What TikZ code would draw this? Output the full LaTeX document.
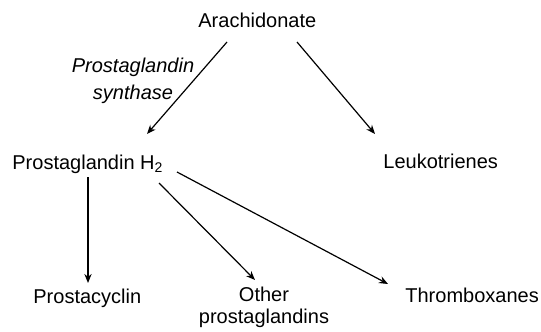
\documentclass[tikz,border=0pt]{standalone}
\usepackage{fontspec}
\setmainfont{Liberation Sans}
\usetikzlibrary{arrows.meta, positioning, calc}

\begin{document}
\begin{tikzpicture}[
    x=0.5pt, y=-0.5pt,
    base/.style={inner sep=0pt, font=\fontsize{10}{11}\selectfont},
    compound/.style={base, anchor=base west},
    enzyme/.style={base, align=center, anchor=north, font=\fontsize{10}{13.5}\selectfont\itshape},
    arrow/.style={-{Stealth[length=4.5pt, width=3.6pt]}, line width=0.6pt}
]
    \useasboundingbox (0,0) rectangle (541,332);

    % Nodes
    \node [compound] (arach) at (198,27) {Arachidonate};
    \node [compound] (pgh2) at (12,169) {Prostaglandin H\raisebox{-0.35ex}{\fontsize{7}{7}\selectfont 2}};
    \node [compound] (leuk) at (383,168) {Leukotrienes};
    \node [compound] (prosta) at (33,303) {Prostacyclin};
    \node [base, align=center, anchor=north] (other) at (264,287) {Other\\prostaglandins};
    \node [compound] (thromb) at (405,302) {Thromboxanes};

    \node [enzyme] (synth) at (133,58) {Prostaglandin\\synthase};

    % Path connections
    \draw [arrow] ($(arach.base west)+(29,15)$) -- ($(pgh2.base west)+(135,-35)$);
    \draw [arrow] ($(arach.base west)+(99,15)$) -- ($(leuk.base west)+(-8,-34)$);

    \draw [arrow] ($(pgh2.base west)+(76,8)$) -- ($(prosta.base west)+(55,-20)$);
    \draw [arrow] ($(pgh2.base west)+(147,14)$) -- ($(other.north)+(-9,-7)$);
    \draw [arrow] ($(pgh2.base west)+(165,3)$) -- ($(thromb.base west)+(-17,-18)$);

\end{tikzpicture}
\end{document}
